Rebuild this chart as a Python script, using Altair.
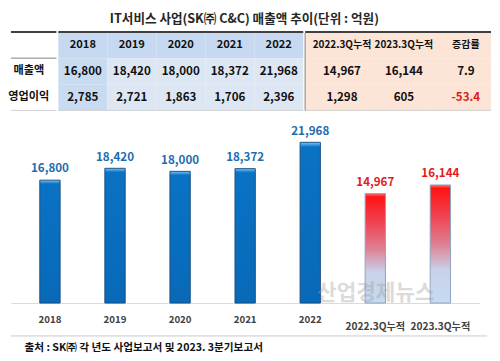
import altair as alt
import pandas as pd

FONT = "Noto Sans CJK KR"

# ---------------- data ----------------
title_text = "IT서비스 사업(SK㈜ C&C) 매출액 추이(단위 : 억원)"
row_order = ["header", "매출액", "영업이익"]
row_labels = ["매출액", "영업이익"]
year_cols = ["2018", "2019", "2020", "2021", "2022"]
cum_cols = ["2022.3Q누적", "2023.3Q누적", "증감률"]
sales_years = [16800, 18420, 18000, 18372, 21968]
op_years = [2785, 2721, 1863, 1706, 2396]
sales_cum = [14967, 16144]
op_cum = [1298, 605]
sales_rate = "7.9"
op_rate = "-53.4"
bar_categories = year_cols + cum_cols[:2]
bar_values = sales_years + sales_cum
source_text = "출처 : SK㈜ 각 년도 사업보고서 및 2023. 3분기보고서"
watermark = "산업경제뉴스"

# ---------------- table frames ----------------
label_df = pd.DataFrame({"col": ["항목"] * 3, "row": row_order, "txt": [""] + row_labels})

yrows = []
for i, c in enumerate(year_cols):
    yrows.append({"col": c, "row": "header", "txt": c})
    yrows.append({"col": c, "row": "매출액", "txt": f"{sales_years[i]:,}"})
    yrows.append({"col": c, "row": "영업이익", "txt": f"{op_years[i]:,}"})
years_df = pd.DataFrame(yrows)

crows = []
for i, c in enumerate(cum_cols[:2]):
    crows.append({"col": c, "row": "header", "txt": c})
    crows.append({"col": c, "row": "매출액", "txt": f"{sales_cum[i]:,}"})
    crows.append({"col": c, "row": "영업이익", "txt": f"{op_cum[i]:,}"})
crows.append({"col": cum_cols[2], "row": "header", "txt": cum_cols[2]})
crows.append({"col": cum_cols[2], "row": "매출액", "txt": sales_rate})
crows.append({"col": cum_cols[2], "row": "영업이익", "txt": op_rate})
cum_df = pd.DataFrame(crows)

TH = 81
yenc = alt.Y("row:N", sort=row_order, scale=alt.Scale(type="band", domain=row_order, paddingInner=0, paddingOuter=0), axis=None)


def xenc(cols, center=False):
    kw = dict(sort=cols, scale=alt.Scale(type="band", domain=cols, paddingInner=0, paddingOuter=0), axis=None)
    if center:
        kw["bandPosition"] = 0.5
    return alt.X("col:N", **kw)


def hrule(width, y, color, sw):
    return alt.Chart(pd.DataFrame({"k": [0]})).mark_rule(color=color, strokeWidth=sw).encode(
        x=alt.value(0), x2=alt.value(width), y=alt.value(y))


# label panel
LW = 47
label_panel = alt.layer(
    alt.Chart(label_df).mark_text(font=FONT, fontSize=11.5, fontWeight="bold", color="#111111", dx=-5).encode(
        x=xenc(["항목"], True), y=yenc, text="txt:N"),
    hrule(LW, 0, "#404040", 2),
    hrule(LW, 27, "#7F7F7F", 1),
    hrule(LW, TH, "#CFCFCF", 1),
).properties(width=LW, height=TH)

# years panel
YW = 253
years_panel = alt.layer(
    alt.Chart(years_df).transform_calculate(
        bg="datum.row == 'header' ? '#C6D9F0' : (datum.col == '2018' ? '#C9DBF1' : '#DDE7F4')"
    ).mark_rect().encode(x=xenc(year_cols), y=yenc, fill=alt.Fill("bg:N", scale=None)),
    alt.Chart(years_df).mark_text(font=FONT, fontWeight="bold", color="#111111").encode(
        x=xenc(year_cols, True), y=yenc, text="txt:N",
        size=alt.condition("datum.row == 'header'", alt.value(11.5), alt.value(12))),
    hrule(YW, 0, "#404040", 2),
    hrule(YW, TH, "#CFCFCF", 1),
).properties(width=YW, height=TH)

# cumulative panel
CW = 192
cum_panel = alt.layer(
    alt.Chart(cum_df).mark_rect(color="#FCE4D6").encode(x=xenc(cum_cols), y=yenc),
    alt.Chart(cum_df).mark_text(font=FONT, fontWeight="bold", dx=6).encode(
        x=xenc(cum_cols, True), y=yenc, text="txt:N",
        size=alt.condition("datum.row == 'header'", alt.value(10.3), alt.value(12)),
        color=alt.condition("indexof(datum.txt, '-') == 0", alt.value("#E01B1B"), alt.value("#111111"))),
    hrule(CW, 0, "#404040", 2),
    hrule(CW, TH, "#CFCFCF", 1),
    alt.Chart(pd.DataFrame({"k": [0]})).mark_rule(color="#A6A6A6", strokeWidth=1.5).encode(
        x=alt.value(0), y=alt.value(1), y2=alt.value(TH)),
).properties(width=CW, height=TH)

table = alt.hconcat(label_panel, years_panel, cum_panel, spacing=0)

# ---------------- bar chart ----------------
bar_df = pd.DataFrame({"category": bar_categories, "value": bar_values})
base = alt.Chart(bar_df).transform_calculate(cum="indexof(datum.category, 'Q') > 0")

is_q = "indexof(datum.value, 'Q') > 0"
bx = alt.X(
    "category:N", sort=bar_categories,
    scale=alt.Scale(type="band", paddingInner=0, paddingOuter=0.1),
    axis=alt.Axis(
        title=None, labelAngle=0, ticks=False, domainColor="#D9D9D9", domainWidth=1,
        labelFont=FONT, labelFontWeight="bold", labelColor="#404040",
        labelFontSize={"condition": {"test": is_q, "value": 10.5}, "value": 10},
        labelPadding={"condition": {"test": is_q, "value": 19}, "value": 12},
    ),
)
by = alt.Y("value:Q", scale=alt.Scale(domain=[0, 26200], nice=False), axis=None)

blue_grad = alt.Gradient(
    gradient="linear", x1=0, x2=0, y1=0, y2=1,
    stops=[
        alt.GradientStop(offset=0, color="#7CC8F6"),
        alt.GradientStop(offset=0.02, color="#2A8BD6"),
        alt.GradientStop(offset=0.03, color="#0A72C4"),
        alt.GradientStop(offset=1, color="#0869B8"),
    ],
)
red_grad = alt.Gradient(
    gradient="linear", x1=0, x2=0, y1=0, y2=1,
    stops=[
        alt.GradientStop(offset=0, color="#FF7070"),
        alt.GradientStop(offset=0.03, color="#FF1414"),
        alt.GradientStop(offset=0.25, color="#F0404E"),
        alt.GradientStop(offset=0.5, color="#DE7F92"),
        alt.GradientStop(offset=0.72, color="#C8D2EA"),
        alt.GradientStop(offset=1, color="#C6DAF2"),
    ],
)

blue_bars = base.transform_filter("!datum.cum").mark_bar(
    width=21, fill=blue_grad, stroke="#1B4F80", strokeWidth=1).encode(x=bx, y=by)
red_bars = base.transform_filter("datum.cum").mark_bar(
    width=21, fill=red_grad, stroke="#8EA2BC", strokeWidth=1).encode(x=bx, y=by)
labels = base.mark_text(font=FONT, fontSize=12, fontWeight="bold", dy=-12).encode(
    x=bx, y=by, text=alt.Text("value:Q", format=","),
    color=alt.condition("datum.cum", alt.value("#E41A1C"), alt.value("#1F6CB0")))
wm = alt.Chart(pd.DataFrame({"t": [watermark]})).mark_text(
    font=FONT, fontSize=22, fontWeight="bold", color="#9A9A9A", opacity=0.35).encode(
    text="t:N", x=alt.value(377), y=alt.value(188))

bars = alt.layer(blue_bars, red_bars, labels, wm).properties(width=484, height=198)

# ---------------- footer ----------------
fdf = pd.DataFrame({"t": [source_text]})
footer = alt.layer(
    alt.Chart(fdf).mark_rule(color="#C8C8C8", strokeWidth=1).encode(
        x=alt.value(0), x2=alt.value(492), y=alt.value(4)),
    alt.Chart(fdf).mark_text(font=FONT, fontSize=11, fontWeight="bold", color="#111111", align="left").encode(
        text="t:N", x=alt.value(14), y=alt.value(17)),
).properties(width=492, height=22)

chart = alt.vconcat(table, bars, footer, spacing=0).properties(
    title=alt.TitleParams(title_text, font=FONT, fontSize=13, fontWeight="bold", color="#262626",
                          anchor="middle", offset=5, dx=-6),
    padding=0,
).configure_view(stroke=None).configure_concat(spacing=0)

chart.save("out.html", embed_options={"renderer": "svg", "actions": False})
